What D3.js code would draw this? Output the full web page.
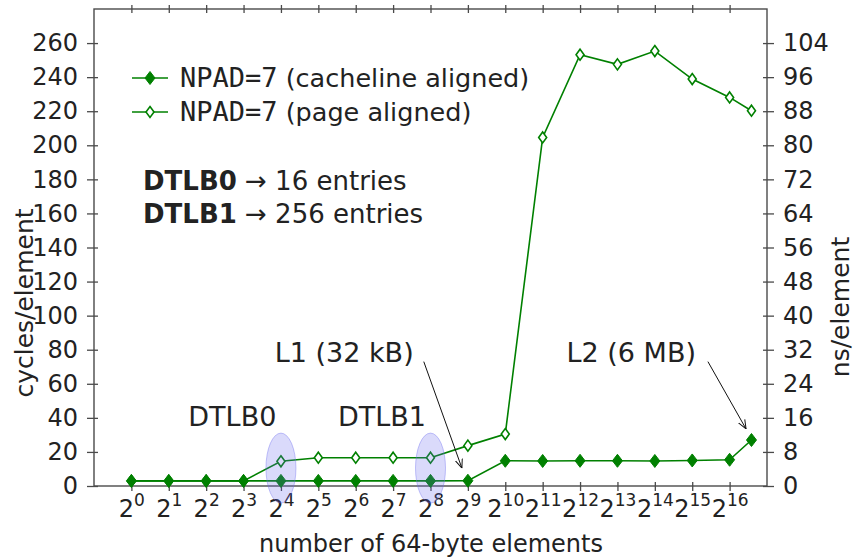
<!DOCTYPE html>
<html>
<head>
<meta charset="utf-8">
<script src="https://cdn.jsdelivr.net/npm/d3@7/dist/d3.min.js"></script>
<style>
  html, body { margin: 0; padding: 0; background: #fff; }
  svg { display: block; }
  text { font-family: "DejaVu Sans", sans-serif; fill: #222; }
  .mono { font-family: "DejaVu Sans Mono", monospace; }
</style>
</head>
<body>
<svg id="chart" width="854" height="558"></svg>
<script>
// working-set size, as log2 of the number of 64-byte elements
const exponents = [0, 1, 2, 3, 4, 5, 6, 7, 8, 9, 10, 11, 12, 13, 14, 15, 16, 16.585];
// cycles per element, cacheline-aligned list
const cachelineAligned = [3, 3, 3, 3, 3, 3, 3, 3, 3, 3.1, 14.8, 14.7, 14.8, 14.8, 14.7, 15.0, 15.4, 27.0];
// cycles per element, page-aligned list
const pageAligned = [3, 3, 3, 3, 14.5, 16.6, 16.6, 16.6, 16.6, 23.7, 30.5, 204.6, 253.2, 247.5, 255.3, 238.9, 228.1, 220.3];

const xTickExps = d3.range(0, 17);
const yTicksCycles = d3.range(0, 261, 20);
const yTicksNs = d3.range(0, 105, 8);
const cyclesPerNs = 2.5;

const seriesNames = ["NPAD=7", "NPAD=7"];
const seriesNotes = [" (cacheline aligned)", " (page aligned)"];

// highlighted TLB-limit points: [exponent, cycles, label]
const tlbMarks = [[4, 10.5, "DTLB0"], [8, 10.5, "DTLB1"]];
// cache-size annotations: text anchor and arrow [fromExp, fromVal, toExp, toVal]
const cacheNotes = [
  { label: "L1 (32 kB)", tx: 7.55, tv: 73, arrow: [7.82, 73, 8.84, 10.5] },
  { label: "L2 (6 MB)", tx: 15.1, tv: 73, arrow: [15.42, 73, 16.44, 33.5] }
];

const W = 854, H = 558;
const m = { left: 94, right: 87, top: 9, bottom: 72 };
const svg = d3.select("#chart");

const x = d3.scaleLinear().domain([-1, 17]).range([m.left, W - m.right]);
const y = d3.scaleLinear().domain([0, 280]).range([H - m.bottom, m.top]);
const y2 = d3.scaleLinear().domain([0, 280 / cyclesPerNs]).range([H - m.bottom, m.top]);

const axisColor = "#4a4a4a";
const green = "#008000";
const fs = 24;

// frame
svg.append("rect")
  .attr("x", m.left).attr("y", m.top)
  .attr("width", W - m.left - m.right).attr("height", H - m.top - m.bottom)
  .attr("fill", "none").attr("stroke", axisColor).attr("stroke-width", 1.4);

function styleAxis(g) {
  g.select(".domain").remove();
  g.selectAll(".tick line").attr("stroke", axisColor).attr("stroke-width", 1.3);
  g.selectAll(".tick text").attr("font-size", fs).attr("fill", "#222")
    .attr("font-family", "DejaVu Sans, sans-serif");
}

// left axis (cycles)
const gl = svg.append("g").attr("transform", `translate(${m.left},0)`)
  .call(d3.axisLeft(y).tickValues(yTicksCycles).tickSize(7).tickPadding(9));
styleAxis(gl);
gl.selectAll(".tick line").attr("x1", 4);

// right axis (ns)
const gr = svg.append("g").attr("transform", `translate(${W - m.right},0)`)
  .call(d3.axisRight(y2).tickValues(yTicksNs).tickSize(7).tickPadding(9));
styleAxis(gr);
gr.selectAll(".tick line").attr("x1", -4);

// bottom axis with power-of-two labels
const gb = svg.append("g").attr("transform", `translate(0,${H - m.bottom})`)
  .call(d3.axisBottom(x).tickValues(xTickExps).tickSize(5).tickPadding(10).tickFormat(""));
styleAxis(gb);
gb.selectAll(".tick line").attr("y1", -4);
gb.selectAll(".tick text")
  .attr("dy", null).attr("y", 31)
  .each(function (d) {
    const t = d3.select(this);
    t.append("tspan").text("2");
    t.append("tspan").attr("font-size", 17).attr("dy", -11).text(d);
  });

// top ticks
const gt = svg.append("g").attr("transform", `translate(0,${m.top})`)
  .call(d3.axisTop(x).tickValues(xTickExps).tickSize(4).tickFormat(""));
styleAxis(gt);
gt.selectAll(".tick line").attr("y1", 4);

// axis titles
svg.append("text").attr("font-size", 25).attr("text-anchor", "middle")
  .attr("transform", "translate(33,303) rotate(-90)").text("cycles/element");
svg.append("text").attr("font-size", 25).attr("text-anchor", "middle")
  .attr("transform", "translate(849,307) rotate(-90)").text("ns/element");
svg.append("text").attr("font-size", fs).attr("text-anchor", "middle")
  .attr("x", 431).attr("y", 552).text("number of 64-byte elements");

// diamond marker path
const diamond = "M0,-6.5L5,0L0,6.5L-5,0Z";
const hollowDiamond = "M0,-5.5L4,0L0,5.5L-4,0Z";

const line = d3.line().x(d => x(d[0])).y(d => y(d[1]));
const series = [
  { values: exponents.map((e, i) => [e, pageAligned[i]]), filled: false },
  { values: exponents.map((e, i) => [e, cachelineAligned[i]]), filled: true }
];

series.forEach(s => {
  svg.append("path").datum(s.values).attr("d", line)
    .attr("fill", "none").attr("stroke", green).attr("stroke-width", 1.6);
  svg.selectAll(null).data(s.values).enter().append("path")
    .attr("transform", d => `translate(${x(d[0])},${y(d[1])})`)
    .attr("d", s.filled ? diamond : hollowDiamond)
    .attr("fill", s.filled ? green : "#fff")
    .attr("stroke", green).attr("stroke-width", s.filled ? 1 : 1.6);
});

// TLB highlight ellipses and labels
tlbMarks.forEach(([e, v, label]) => {
  svg.append("ellipse").attr("cx", x(e)).attr("cy", y(v))
    .attr("rx", 15).attr("ry", 35)
    .attr("fill", "rgba(100,100,240,0.24)").attr("stroke", "rgba(110,110,240,0.4)").attr("stroke-width", 1);
  svg.append("text").attr("font-size", 27).attr("text-anchor", "middle")
    .attr("x", x(e - 1.3)).attr("y", y(35)).text(label);
});

// cache-size annotations with open arrowheads
svg.append("defs").append("marker")
  .attr("id", "arrow").attr("viewBox", "0 0 10 10").attr("refX", 10).attr("refY", 5)
  .attr("markerWidth", 9).attr("markerHeight", 9).attr("orient", "auto")
  .attr("markerUnits", "userSpaceOnUse")
  .append("path").attr("d", "M0,1L10,5L0,9").attr("fill", "none").attr("stroke", "#111").attr("stroke-width", 1.1);

cacheNotes.forEach(n => {
  svg.append("text").attr("font-size", 27).attr("text-anchor", "end")
    .attr("x", x(n.tx)).attr("y", y(n.tv)).text(n.label);
  const [a, b, c, d] = n.arrow;
  svg.append("line").attr("x1", x(a)).attr("y1", y(b)).attr("x2", x(c)).attr("y2", y(d))
    .attr("stroke", "#111").attr("stroke-width", 1).attr("marker-end", "url(#arrow)");
});

// legend
const legend = svg.append("g");
[true, false].forEach((filled, i) => {
  const ly = 78 + i * 34;
  legend.append("line").attr("x1", 132).attr("x2", 168).attr("y1", ly).attr("y2", ly)
    .attr("stroke", green).attr("stroke-width", 1.6);
  legend.append("path").attr("transform", `translate(150,${ly})`)
    .attr("d", filled ? diamond : hollowDiamond)
    .attr("fill", filled ? green : "#fff").attr("stroke", green).attr("stroke-width", filled ? 1 : 1.6);
  const t = legend.append("text").attr("x", 180).attr("y", ly + 9).attr("font-size", 25.5);
  t.append("tspan").attr("class", "mono").attr("font-size", 27).text(seriesNames[i]);
  t.append("tspan").text(seriesNotes[i]);
});

// TLB capacity note
const tlbInfo = [["DTLB0", " \u2192 16 entries"], ["DTLB1", " \u2192 256 entries"]];
tlbInfo.forEach(([k, v], i) => {
  const t = svg.append("text").attr("x", 143).attr("y", 190 + i * 33).attr("font-size", 26);
  t.append("tspan").attr("font-weight", "bold").text(k);
  t.append("tspan").attr("font-size", 26).text(v);
});
</script>
</body>
</html>
